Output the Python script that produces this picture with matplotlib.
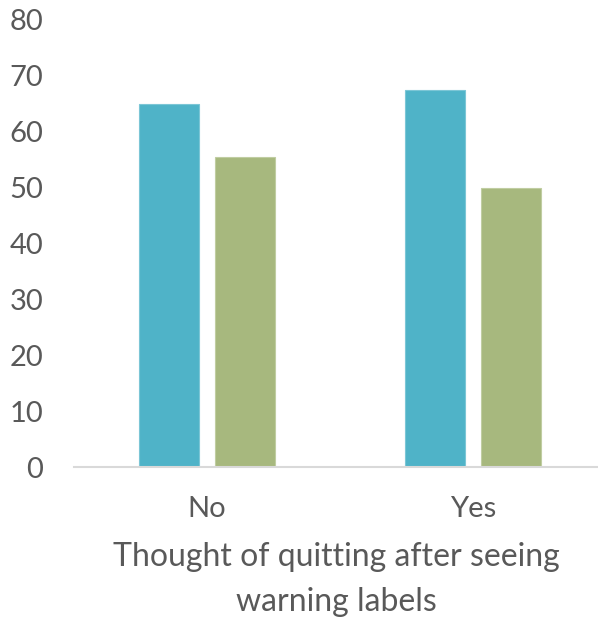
import matplotlib
matplotlib.use("Agg")
import matplotlib.pyplot as plt
import numpy as np

categories = ["No", "Yes"]
series_a = [65, 67.5]
series_b = [55.5, 50]
y_ticks = [0, 10, 20, 30, 40, 50, 60, 70, 80]
x_title = "Thought of quitting after seeing\nwarning labels"

teal = "#4fb3c8"
green = "#a7b87e"
text_color = "#595959"

plt.rcParams["font.family"] = ["Lato", "DejaVu Sans"]

fig = plt.figure(figsize=(5.98, 6.22), dpi=100)
ax = fig.add_axes([74 / 598, (622 - 467) / 622, (598 - 74) / 598, 447 / 622])

x = np.arange(len(categories))
width = 0.226
offset = 0.143
ax.bar(x - offset, series_a, width, color=teal, edgecolor="#7cc6d6", linewidth=0.8)
ax.bar(x + offset, series_b, width, color=green, edgecolor="#c0cda2", linewidth=0.8)

ax.set_xlim(-0.5, 1.47)
ax.set_ylim(0, 80)
ax.set_yticks(y_ticks)
ax.set_xticks(x)
ax.set_xticklabels(categories)

for side in ("left", "right", "top"):
    ax.spines[side].set_visible(False)
ax.spines["bottom"].set_color("#d9d9d9")
ax.spines["bottom"].set_linewidth(1.5)

ax.tick_params(axis="y", length=0, pad=22, labelsize=21, labelcolor=text_color)
ax.tick_params(axis="x", length=0, pad=21, labelsize=21, labelcolor=text_color)

ax.set_xlabel(x_title, fontsize=23, color=text_color, labelpad=14, linespacing=1.65)

fig.savefig("out.png", dpi=100)
